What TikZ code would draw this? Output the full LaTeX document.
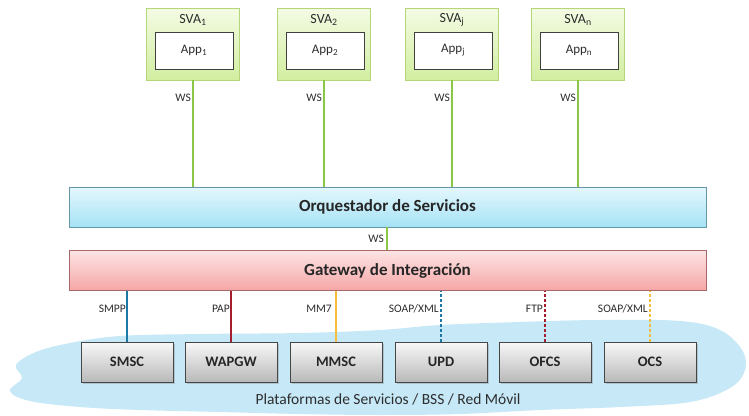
\documentclass[tikz,border=0pt]{standalone}
\usepackage{fontspec}
\setmainfont{Carlito}
\usetikzlibrary{shadows}
\definecolor{txt}{RGB}{45,45,45}
\definecolor{cloudc}{RGB}{198,232,247}
\definecolor{wsgreen}{RGB}{140,198,70}
\definecolor{svatop}{RGB}{244,251,228}
\definecolor{svabot}{RGB}{210,238,160}
\definecolor{svaedge}{RGB}{180,214,120}
\definecolor{orqtop}{RGB}{228,247,253}
\definecolor{orqbot}{RGB}{166,226,245}
\definecolor{orqedge}{RGB}{100,150,165}
\definecolor{gwtop}{RGB}{253,228,228}
\definecolor{gwbot}{RGB}{246,166,166}
\definecolor{gwedge}{RGB}{170,105,105}
\definecolor{graytop}{RGB}{248,248,248}
\definecolor{graybot}{RGB}{185,185,185}
\definecolor{grayedge}{RGB}{70,70,70}
\definecolor{lblue}{RGB}{30,120,165}
\definecolor{lred}{RGB}{165,30,45}
\definecolor{lyellow}{RGB}{245,190,60}
\begin{document}
\begin{tikzpicture}[x=1pt,y=-1pt,
  svabox/.style={draw=svaedge, line width=0.8pt, top color=svatop, bottom color=svabot, minimum width=93pt, minimum height=72pt, inner sep=0pt},
  appbox/.style={draw=black!75, line width=0.8pt, fill=white, minimum width=78pt, minimum height=37pt, inner sep=0pt, font=\fontsize{13}{15}\selectfont, text=txt},
  svatitle/.style={font=\fontsize{14}{15}\selectfont, text=txt, inner sep=0pt},
  bar/.style={line width=0.9pt, minimum width=637pt, minimum height=40pt, inner sep=0pt, font=\bfseries\fontsize{17}{20}\selectfont, text=black!85},
  orqbar/.style={bar, draw=orqedge, top color=orqtop, bottom color=orqbot},
  gwbar/.style={bar, draw=gwedge, top color=gwtop, bottom color=gwbot},
  platbox/.style={draw=grayedge, line width=0.9pt, top color=graytop, bottom color=graybot, minimum width=92pt, minimum height=40pt, inner sep=0pt, font=\bfseries\fontsize{14.5}{17}\selectfont, text=black!85, drop shadow={shadow xshift=1.5pt, shadow yshift=-1.5pt, opacity=0.35}},
  wsline/.style={draw=wsgreen, line width=1.6pt},
  lbl/.style={font=\fontsize{11.5}{13}\selectfont, text=txt, inner sep=0pt, anchor=east},
  solidl/.style={line width=1.2pt},
  dashl/.style={line width=1.2pt, dash pattern=on 3pt off 2pt}
]
\useasboundingbox (0,0) rectangle (749,415);
\fill[white] (0,0) rectangle (749,415);
% cloud
\fill[cloudc] plot[smooth cycle, tension=0.6] coordinates {
  (70,343) (120,336) (200,334) (300,333) (380,330) (440,325) (520,322) (600,320)
  (680,321) (720,330) (742,350) (745,370) (730,388) (690,402) (620,407) (540,410)
  (460,414) (380,415) (300,414) (220,412) (140,410) (80,407) (30,401) (10,391)
  (22,378) (16,365) (36,352)};
% SVA boxes
\node[svabox] (sva1) at (193,44) {};
\node[svabox] (sva2) at (324,44) {};
\node[svabox] (svaj) at (452,44) {};
\node[svabox] (svan) at (578,44) {};
\node[svatitle] (t1) at (193,20) {SVA\textsubscript{1}};
\node[svatitle] (t2) at (324,20) {SVA\textsubscript{2}};
\node[svatitle] (tj) at (452,20) {SVA\textsubscript{j}};
\node[svatitle] (tn) at (578,20) {SVA\textsubscript{n}};
\node[appbox] (app1) at (194,50.5) {App\textsubscript{1}};
\node[appbox] (app2) at (325,50.5) {App\textsubscript{2}};
\node[appbox] (appj) at (453,50.5) {App\textsubscript{j}};
\node[appbox] (appn) at (579,50.5) {App\textsubscript{n}};
% bars
\node[orqbar] (orq) at (387.5,207) {Orquestador de Servicios};
\node[gwbar] (gw) at (387.5,270.5) {Gateway de Integración};
% SVA links
\foreach \s in {sva1,sva2,svaj,svan}{
  \draw[wsline] (\s.south) -- (\s.south |- orq.north);
  \path (\s.south) ++(-2,17) node[lbl] {WS};
}
\draw[wsline] (orq.south -| 387,0) -- (gw.north -| 387,0);
\path (orq.south -| 387,0) ++(-3,11) node[lbl] {WS};
% platforms
\node[platbox] (smsc) at (127,362) {SMSC};
\node[platbox] (wapgw) at (231,362) {WAPGW};
\node[platbox] (mmsc) at (336,362) {MMSC};
\node[platbox] (upd) at (441,362) {UPD};
\node[platbox] (ofcs) at (545,362) {OFCS};
\node[platbox] (ocs) at (650,362) {OCS};
\draw[solidl, draw=lblue] (smsc.north) -- (smsc.north |- gw.south);
\draw[solidl, draw=lred] (wapgw.north) -- (wapgw.north |- gw.south);
\draw[solidl, draw=lyellow] (mmsc.north) -- (mmsc.north |- gw.south);
\draw[dashl, draw=lblue] (upd.north) -- (upd.north |- gw.south);
\draw[dashl, draw=lred] (ofcs.north) -- (ofcs.north |- gw.south);
\draw[dashl, draw=lyellow] (ocs.north) -- (ocs.north |- gw.south);
\path (smsc.north) ++(-1,-33) node[lbl] {SMPP};
\path (wapgw.north) ++(-1,-33) node[lbl] {PAP};
\path (mmsc.north) ++(-4,-33) node[lbl] {MM7};
\path (upd.north) ++(-2,-33) node[lbl] {SOAP/XML};
\path (ofcs.north) ++(-2,-33) node[lbl] {FTP};
\path (ocs.north) ++(-2,-33) node[lbl] {SOAP/XML};
\node[font=\fontsize{15.5}{18}\selectfont, text=txt, inner sep=0pt] (cap) at (388,399) {Plataformas de Servicios / BSS / Red Móvil};
\end{tikzpicture}
\end{document}
